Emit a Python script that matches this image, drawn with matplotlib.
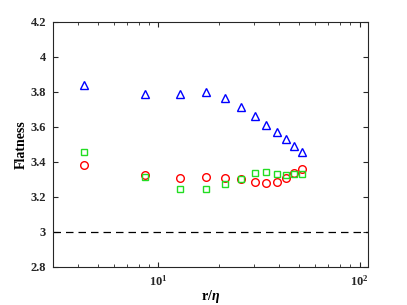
import numpy as np
import matplotlib.pyplot as plt

plt.rcParams['font.family'] = ['Liberation Serif', 'DejaVu Serif']
plt.rcParams['font.weight'] = 'bold'
plt.rcParams['mathtext.fontset'] = 'custom'
plt.rcParams['mathtext.it'] = 'Liberation Serif:italic:bold'
plt.rcParams['mathtext.rm'] = 'Liberation Serif:bold'

r = [4.3, 8.6, 12.9, 17.2, 21.5, 25.8, 30.1, 34.4, 38.7, 43.0, 47.3, 51.6]
flat_tri = [3.84, 3.79, 3.79, 3.80, 3.765, 3.715, 3.66, 3.61, 3.57, 3.53, 3.49, 3.455]
flat_circ = [3.384, 3.328, 3.307, 3.316, 3.31, 3.30, 3.284, 3.28, 3.288, 3.31, 3.336, 3.361]
flat_sq = [3.456, 3.315, 3.246, 3.246, 3.271, 3.304, 3.334, 3.342, 3.332, 3.328, 3.33, 3.332]

fig = plt.figure(figsize=(4.07, 3.05), dpi=100)
ax = fig.add_axes([0.130, 0.125, 0.774, 0.803])

ax.plot(r, flat_tri, '^', mfc='none', mec='#0000ff', ms=6, mew=1.0)
ax.plot(r, flat_circ, 'o', mfc='none', mec='#ff0000', ms=5.5, mew=1.0)
ax.plot(r, flat_sq, 's', mfc='none', mec='#22dd22', ms=4.5, mew=1.0)
ax.axhline(3, color='k', ls=(0, (6, 4)), lw=0.9)

ax.set_xscale('log')
ax.set_xlim(3, 110)
ax.set_ylim(2.8, 4.2)
ax.set_yticks([2.8, 3, 3.2, 3.4, 3.6, 3.8, 4, 4.2])
ax.set_yticklabels(['2.8', '3', '3.2', '3.4', '3.6', '3.8', '4', '4.2'])
ax.tick_params(which='both', direction='in', top=True, right=True, labelsize=9, colors='#262626')
ax.tick_params(which='major', length=3.5, pad=5)
ax.tick_params(which='minor', length=2)
for s in ax.spines.values():
    s.set_color('#262626')
    s.set_linewidth(0.8)

ax.set_xlabel(r'r/$\eta$', fontsize=10, fontweight='bold', labelpad=0)
ax.set_ylabel('Flatness', fontsize=10, fontweight='bold', labelpad=2)

fig.savefig('out.png', dpi=100)
